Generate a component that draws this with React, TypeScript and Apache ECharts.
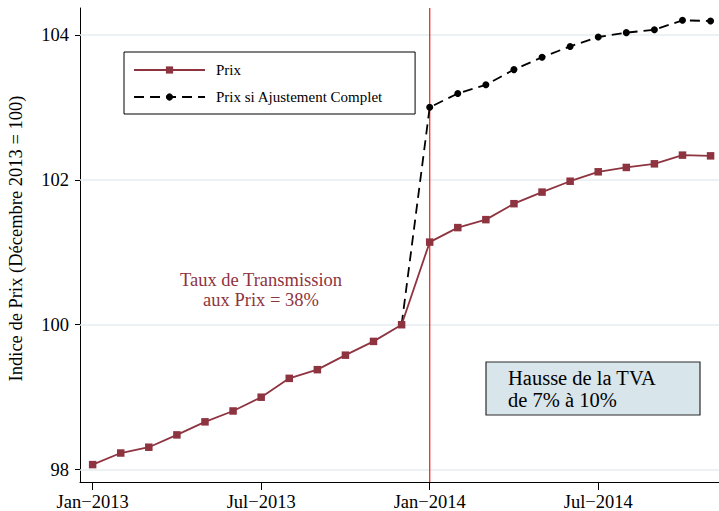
import React, { useEffect, useRef } from "react";
import * as echarts from "echarts";

// Month index 0 = Jan-2013 ... 22 = Nov-2014
const tickIndices = [0, 6, 12, 18];
const tickLabels = ["Jan\u22122013", "Jul\u22122013", "Jan\u22122014", "Jul\u22122014"];
const yTicks = [98, 100, 102, 104];

const prix = [
  98.07, 98.23, 98.31, 98.48, 98.66, 98.81, 99.0, 99.26, 99.38, 99.58, 99.77, 100.0,
  101.14, 101.34, 101.45, 101.67, 101.83, 101.98, 102.11, 102.17, 102.22, 102.34, 102.33,
];
const complet: (number | null)[] = [
  null, null, null, null, null, null, null, null, null, null, null, 100.0,
  103.0, 103.19, 103.31, 103.52, 103.69, 103.84, 103.97, 104.03, 104.07, 104.2, 104.19,
];
const vatIncreaseIndex = 12;
const X_MIN = -0.45;
const X_MAX = 22.3;
const Y_MIN = 97.83;
const Y_MAX = 104.37;

const seriesNames = ["Prix", "Prix si Ajustement Complet"];
const yTitle = "Indice de Prix (D\u00e9cembre 2013 = 100)";
const noteTransmission = "Taux de Transmission\naux Prix = 38%";
const noteVat = "Hausse de la TVA\nde 7% \u00e0 10%";

const FONT = '"Liberation Serif", "DejaVu Serif", "Times New Roman", serif';
const MAROON = "#8e3440";
const VAT_RED = "#ff2626";

export default function App() {
  const ref = useRef<HTMLDivElement>(null);

  useEffect(() => {
    if (!ref.current) return;
    const chart = echarts.init(ref.current, undefined, { renderer: "svg" });

    const prixData = prix.map((v, i) => [i, v]);
    const firstComplet = complet.findIndex((v) => v !== null);
    const completData = complet
      .map((v, i) => (v === null ? null : i === firstComplet ? { value: [i, v], symbol: "none" } : [i, v]))
      .filter((d) => d !== null);
    const vatLine = [
      [vatIncreaseIndex, Y_MIN],
      [vatIncreaseIndex, Y_MAX],
    ];

    chart.setOption({
      animation: false,
      grid: { left: 80, top: 8, right: 0, bottom: 28, containLabel: false },
      xAxis: {
        type: "value",
        min: X_MIN,
        max: X_MAX,
        axisLine: { show: true, onZero: false, lineStyle: { color: "#000", width: 1 } },
        axisTick: { show: true, customValues: tickIndices, length: 8, lineStyle: { color: "#000", width: 1 } },
        axisLabel: {
          customValues: tickIndices,
          formatter: (v: number) => tickLabels[tickIndices.indexOf(Math.round(v))] ?? "",
          margin: 10,
          fontSize: 18.5,
          fontFamily: FONT,
          color: "#000",
        },
        splitLine: { show: false },
      },
      yAxis: {
        type: "value",
        min: Y_MIN,
        max: Y_MAX,
        axisLine: { show: true, onZero: false, lineStyle: { color: "#000", width: 1 } },
        axisTick: { show: true, customValues: yTicks, length: 5, lineStyle: { color: "#000", width: 1 } },
        axisLabel: {
          customValues: yTicks,
          margin: 11,
          fontSize: 18.5,
          fontFamily: FONT,
          color: "#000",
        },
        splitLine: { show: false },
      },
      legend: {
        orient: "vertical",
        left: 124,
        top: 52,
        data: seriesNames,
        itemWidth: 71,
        itemHeight: 9,
        itemGap: 12,
        padding: [10.5, 32, 9.5, 9],
        borderColor: "#000",
        borderWidth: 1,
        borderRadius: 0,
        backgroundColor: "#fff",
        textStyle: { fontFamily: FONT, fontSize: 15, color: "#000", lineHeight: 15, padding: [0, 0, 0, 6] },
      },
      graphic: [
        {
          type: "text",
          x: 16,
          y: 238.5,
          rotation: Math.PI / 2,
          style: {
            text: yTitle,
            fontFamily: FONT,
            fontSize: 18.5,
            fill: "#000",
            align: "center",
            verticalAlign: "middle",
          },
        },
        {
          type: "text",
          x: 261,
          y: 290,
          style: {
            text: noteTransmission,
            fontFamily: FONT,
            fontSize: 18.5,
            lineHeight: 20,
            fill: MAROON,
            align: "center",
            verticalAlign: "middle",
          },
        },
        {
          type: "rect",
          shape: { x: 486, y: 362, width: 214, height: 53 },
          style: { fill: "#d8e5eb", stroke: "#2b2b2b", lineWidth: 1.2 },
        },
        {
          type: "text",
          x: 508,
          y: 389,
          style: {
            text: noteVat,
            fontFamily: FONT,
            fontSize: 20.5,
            lineHeight: 22,
            fill: "#000",
            align: "left",
            verticalAlign: "middle",
          },
        },
      ],
      series: [
        {
          type: "line",
          name: "_grid",
          data: [],
          z: 1,
          silent: true,
          markLine: {
            z: 1,
            silent: true,
            symbol: ["none", "none"],
            label: { show: false },
            animation: false,
            lineStyle: { color: "#e6eef1", width: 1.5, type: "solid" },
            emphasis: { disabled: true },
            data: yTicks.map((v) => ({ yAxis: v })),
          },
        },
        {
          type: "line",
          name: "_vat",
          data: vatLine,
          z: 1,
          silent: true,
          symbol: "none",
          color: VAT_RED,
          itemStyle: { color: VAT_RED },
          lineStyle: { color: VAT_RED, width: 1.3, type: "solid" },
          emphasis: { disabled: true },
        },
        {
          type: "line",
          name: seriesNames[1],
          data: completData,
          z: 2,
          symbol: "circle",
          symbolSize: 7,
          itemStyle: { color: "#000" },
          lineStyle: { color: "#000", width: 1.8, type: [10, 6] },
        },
        {
          type: "line",
          name: seriesNames[0],
          data: prixData,
          z: 3,
          symbol: "rect",
          symbolSize: 7.5,
          itemStyle: { color: MAROON },
          lineStyle: { color: MAROON, width: 1.8 },
        },
      ],
    });

    return () => chart.dispose();
  }, []);

  return (
    <div
      ref={ref}
      style={{ position: "absolute", left: 0, top: 0, width: 719, height: 511, background: "#fff" }}
    />
  );
}
